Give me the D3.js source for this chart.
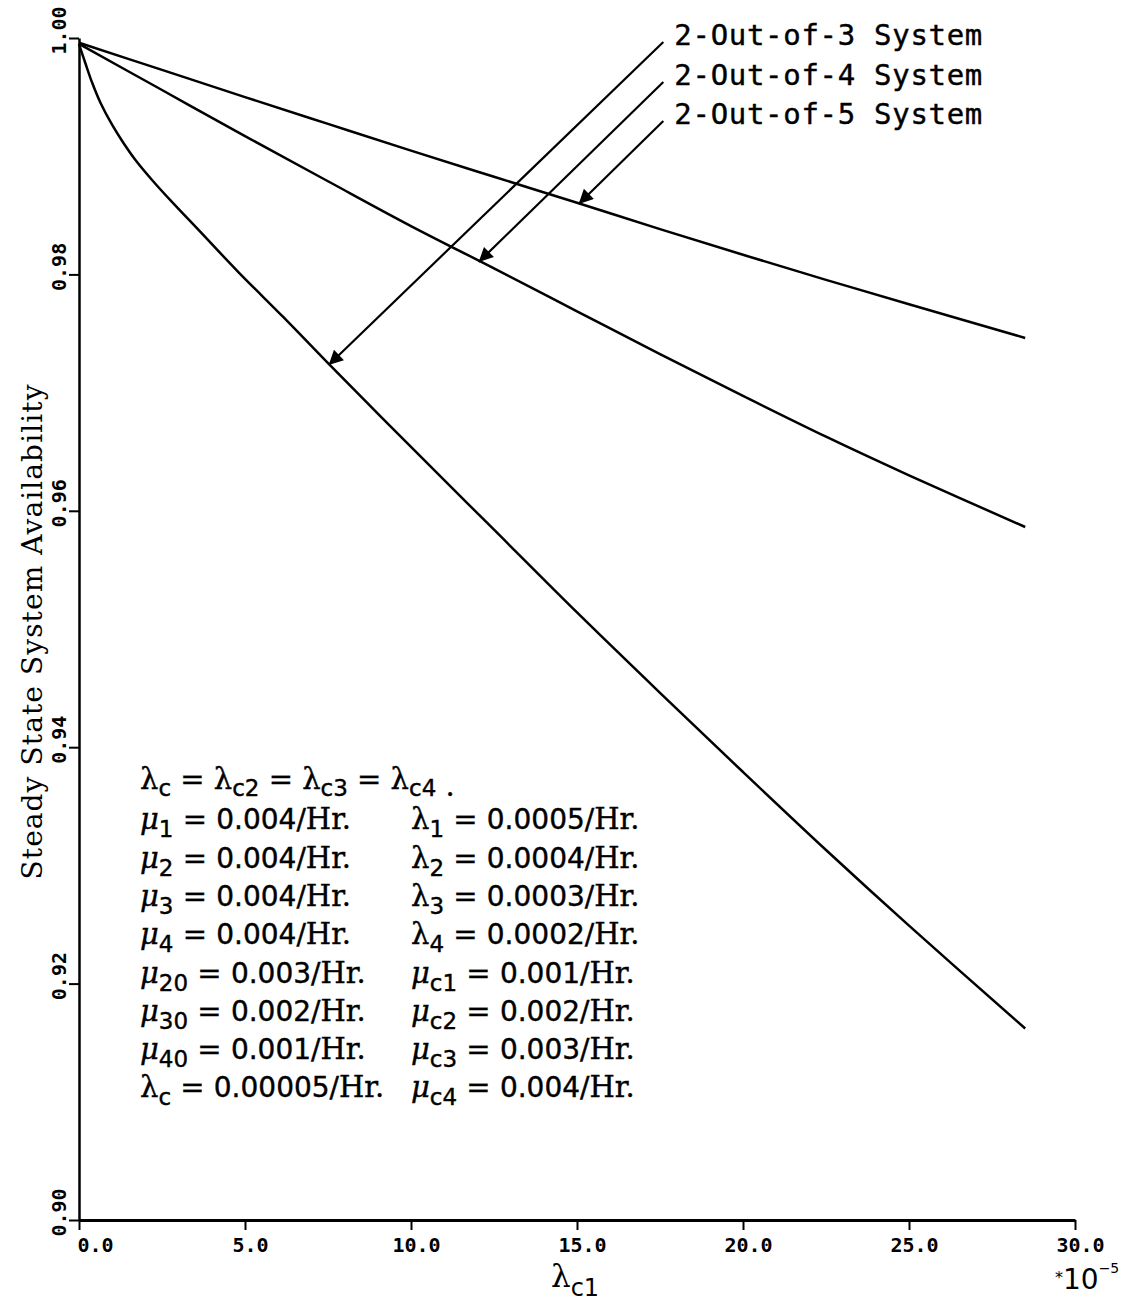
<!DOCTYPE html>
<html>
<head>
<meta charset="utf-8">
<script src="https://cdn.jsdelivr.net/npm/d3@7"></script>
<style>
  body { margin: 0; background: #fff; }
  svg { display: block; }
</style>
</head>
<body>
<div class="chart"></div>
<script>
const width = 1125;
const height = 1306;

// data (lambda_c1 in units of 1e-5)
const xTicks = [0, 5, 10, 15, 20, 25, 30];
const yTicks = [0.90, 0.92, 0.94, 0.96, 0.98, 1.00];

const xOf3 = [0, 0.2, 0.4, 0.65, 1.0, 1.3, 1.7, 2.2, 2.8, 3.6, 4.8, 6.15, 7.5,
  10, 12.5, 15, 17.5, 20, 22.5, 25, 28.5];
const availOf3 = [0.99949, 0.9978, 0.99619, 0.9945, 0.99264, 0.99129, 0.98968, 0.98799, 0.98613,
  0.98376, 0.9802, 0.9764, 0.9725, 0.9654, 0.9584, 0.9514, 0.9446, 0.9379, 0.9313, 0.9249, 0.9162];

const xOf4 = [0, 2.5, 5, 7.5, 10, 12.5, 15, 17.5, 20, 22.5, 25, 28.5];
const availOf4 = [0.9995, 0.9956, 0.9917, 0.98788, 0.98409, 0.98051, 0.97688, 0.97325, 0.96972,
  0.96627, 0.96300, 0.95863];

const xOf5 = [0, 2.5, 5, 7.5, 10, 12.5, 15, 17.5, 20, 22.5, 25, 28.5];
const availOf5 = [0.9996, 0.9973, 0.9950, 0.99273, 0.99047, 0.98826, 0.98606, 0.98383, 0.98166,
  0.97954, 0.97748, 0.97462];

const seriesNames = ["2-Out-of-3 System", "2-Out-of-4 System", "2-Out-of-5 System"];
// arrow tail (near label) and head (on curve) in data units
const arrowTails = [[17.6, 0.99966], [17.6, 0.99628], [17.6, 0.99298]];
const arrowHeads = [[7.52, 0.97234], [12.04, 0.98105], [15.05, 0.98596]];

// parameter block: [symbol, subscript, value]
const paramLeft = [
  ["μ", "1", "0.004"], ["μ", "2", "0.004"], ["μ", "3", "0.004"], ["μ", "4", "0.004"],
  ["μ", "20", "0.003"], ["μ", "30", "0.002"], ["μ", "40", "0.001"], ["λ", "c", "0.00005"],
];
const paramRight = [
  ["λ", "1", "0.0005"], ["λ", "2", "0.0004"], ["λ", "3", "0.0003"], ["λ", "4", "0.0002"],
  ["μ", "c1", "0.001"], ["μ", "c2", "0.002"], ["μ", "c3", "0.003"], ["μ", "c4", "0.004"],
];

const plotLeft = 79, plotRight = 1075, plotTop = 38, plotBottom = 1220;

const svg = d3
  .select(".chart")
  .append("svg")
  .attr("width", width)
  .attr("height", height);

const x = d3.scaleLinear().domain([0, 30]).range([plotLeft, plotRight]);
const y = d3.scaleLinear().domain([0.90, 1.00]).range([plotBottom, plotTop]);

const monoFont = "'DejaVu Sans Mono', monospace";
const serifFont = "'DejaVu Serif', serif";
const sansFont = "'DejaVu Sans', sans-serif";

// x axis
const xAxis = svg
  .append("g")
  .attr("transform", `translate(0,${plotBottom})`)
  .call(
    d3.axisBottom(x).tickValues(xTicks).tickSize(10).tickSizeOuter(0).tickFormat(d3.format(".1f"))
  );
xAxis.select(".domain").attr("stroke-width", 3);
xAxis.selectAll(".tick line").attr("stroke-width", 2);
xAxis
  .selectAll(".tick text")
  .attr("y", 18)
  .attr("dx", (d) => (d === 0 ? -2 : 5))
  .attr("text-anchor", (d) => (d === 0 ? "start" : "middle"))
  .style("font-family", monoFont)
  .style("font-weight", "bold")
  .style("font-size", "20px")
  .attr("fill", "#000");

// y axis
const yAxis = svg
  .append("g")
  .attr("transform", `translate(${plotLeft},0)`)
  .call(
    d3.axisLeft(y).tickValues(yTicks).tickSize(10).tickSizeOuter(0).tickFormat(d3.format(".2f"))
  );
yAxis.select(".domain").attr("stroke-width", 2.5);
yAxis.selectAll(".tick line").attr("stroke-width", 2);
yAxis
  .selectAll(".tick text")
  .attr("transform", "rotate(-90)")
  .attr("x", 8)
  .attr("y", -13)
  .attr("dy", 0)
  .attr("text-anchor", "middle")
  .style("font-family", monoFont)
  .style("font-weight", "bold")
  .style("font-size", "20px")
  .attr("fill", "#000");

// axis titles
svg
  .append("text")
  .attr("transform", `translate(42,632) rotate(-90)`)
  .attr("text-anchor", "middle")
  .style("font-family", serifFont)
  .style("font-size", "28px")
  .attr("textLength", 495)
  .text("Steady State System Availability");

const xTitle = svg
  .append("text")
  .attr("x", 551)
  .attr("y", 1287)
  .style("font-family", serifFont)
  .style("font-size", "31px");
xTitle.append("tspan").text("λ");
xTitle
  .append("tspan")
  .attr("dy", 9)
  .style("font-family", sansFont)
  .style("font-size", "24px")
  .text("c1");

const mult = svg
  .append("text")
  .attr("x", 1055)
  .attr("y", 1289)
  .style("font-family", sansFont)
  .style("font-size", "28px");
mult.append("tspan").style("font-size", "16px").attr("dy", -6).text("*");
mult.append("tspan").attr("dy", 6).text("10");
mult.append("tspan").style("font-size", "14px").attr("dy", -16).text("−5");

// curves
const line = d3
  .line()
  .x((d) => x(d[0]))
  .y((d) => y(d[1]))
  .curve(d3.curveCatmullRom.alpha(0.5));

const curves = [
  d3.zip(xOf3, availOf3),
  d3.zip(xOf4, availOf4),
  d3.zip(xOf5, availOf5),
];

svg
  .selectAll(".curve")
  .data(curves)
  .enter()
  .append("path")
  .attr("class", "curve")
  .attr("d", line)
  .attr("fill", "none")
  .attr("stroke", "#000")
  .attr("stroke-width", 2.5);

// arrows and labels
svg
  .append("defs")
  .append("marker")
  .attr("id", "arrowHead")
  .attr("viewBox", "0 0 10 10")
  .attr("refX", 10)
  .attr("refY", 5)
  .attr("markerWidth", 9)
  .attr("markerHeight", 6.5)
  .attr("markerUnits", "strokeWidth")
  .attr("orient", "auto")
  .append("path")
  .attr("d", "M0,0 L10,5 L0,10 Z")
  .attr("fill", "#000");

seriesNames.forEach((name, i) => {
  svg
    .append("line")
    .attr("x1", x(arrowTails[i][0]))
    .attr("y1", y(arrowTails[i][1]))
    .attr("x2", x(arrowHeads[i][0]))
    .attr("y2", y(arrowHeads[i][1]))
    .attr("stroke", "#000")
    .attr("stroke-width", 2.2)
    .attr("marker-end", "url(#arrowHead)");

  svg
    .append("text")
    .attr("x", x(arrowTails[i][0]) + 11)
    .attr("y", y(arrowTails[i][1]) + 3)
    .style("font-family", monoFont)
    .style("font-size", "29px")
    .attr("stroke", "#000")
    .attr("stroke-width", 0.4)
    .attr("textLength", 308)
    .text(name);
});

// parameter block
function addParam(row, px, py) {
  const t = svg
    .append("text")
    .attr("x", px)
    .attr("y", py)
    .style("font-size", "29px")
    .attr("stroke", "#000")
    .attr("stroke-width", 0.4);
  t.append("tspan")
    .style("font-family", serifFont)
    .style("font-style", row[0] === "μ" ? "italic" : "normal")
    .text(row[0]);
  t.append("tspan")
    .attr("dy", 8)
    .style("font-family", sansFont)
    .style("font-size", "23px")
    .text(row[1]);
  t.append("tspan")
    .attr("dy", -8)
    .style("font-family", serifFont)
    .text(" = ");
  t.append("tspan").style("font-family", sansFont).style("font-size", "28px").text(row[2] + "/");
  t.append("tspan").style("font-family", serifFont).text("Hr.");
}

const rowGap = 38.3;
const firstRow = 789;

const head = svg
  .append("text")
  .attr("x", 140)
  .attr("y", firstRow)
  .style("font-size", "29px")
  .attr("stroke", "#000")
  .attr("stroke-width", 0.4);
[["λ", "c"], ["λ", "c2"], ["λ", "c3"], ["λ", "c4"]].forEach((p, i) => {
  head.append("tspan").attr("dy", i === 0 ? 0 : -7).style("font-family", serifFont)
    .text((i === 0 ? "" : " = ") + p[0]);
  head.append("tspan").attr("dy", 7).style("font-family", sansFont).style("font-size", "23px").text(p[1]);
});
head.append("tspan").style("font-family", serifFont).text("  .");

paramLeft.forEach((row, i) => addParam(row, 140, firstRow + 2 + rowGap * (i + 1)));
paramRight.forEach((row, i) => addParam(row, 411, firstRow + 2 + rowGap * (i + 1)));
</script>
</body>
</html>
